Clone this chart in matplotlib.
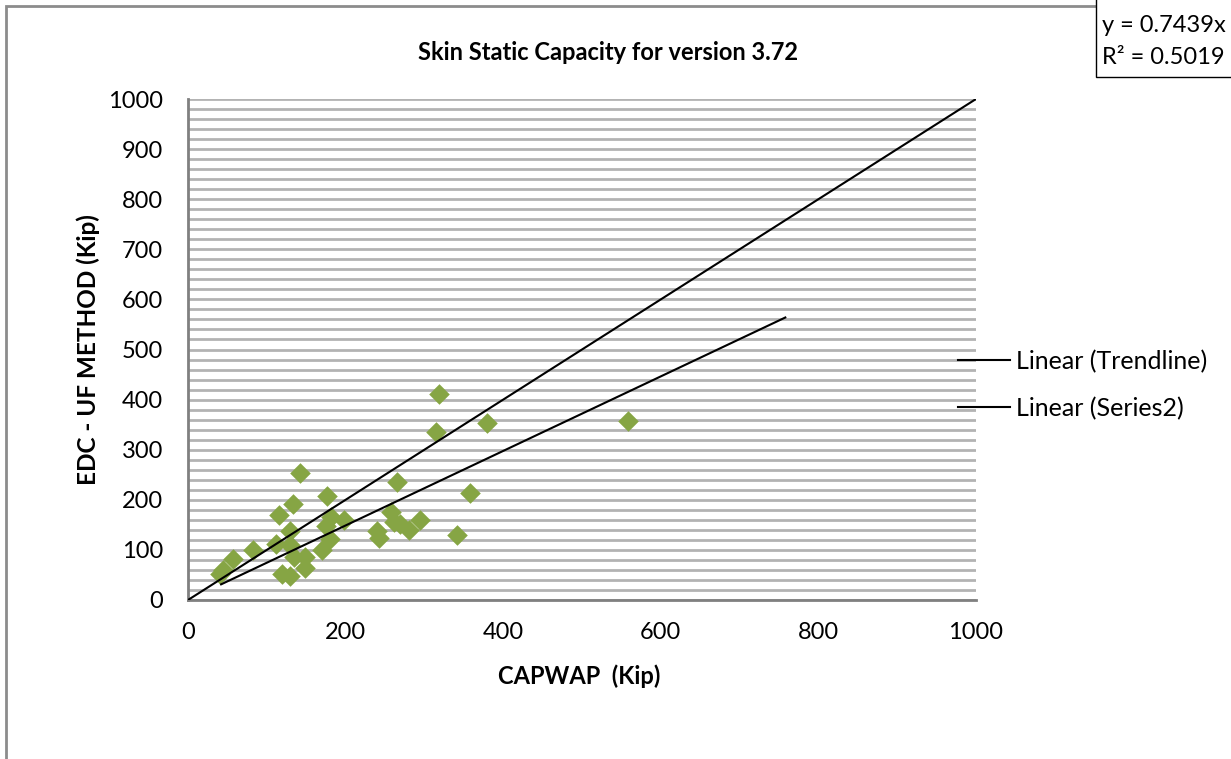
#!/usr/bin/env python3
"""Skin static capacity scatter: EDC - UF method vs CAPWAP."""

import matplotlib

matplotlib.use("Agg")
import matplotlib.pyplot as plt
from matplotlib.lines import Line2D
from matplotlib.patches import Rectangle

plt.rcParams["font.family"] = ["Lato", "DejaVu Sans"]

# measured capacities (Kip)
capwap = [318, 380, 315, 142, 265, 177, 358, 133, 116, 182, 198, 258, 261, 269, 294,
          280, 240, 242, 129, 175, 180, 170, 112, 129, 83, 57, 45, 41, 134, 148,
          148, 119, 130, 341, 558]
edc = [412, 354, 336, 253, 236, 207, 214, 191, 170, 166, 160, 175, 156, 152, 160,
       140, 138, 124, 137, 148, 122, 100, 112, 110, 100, 82, 60, 52, 86, 86,
       63, 52, 47, 130, 357]

# 1:1 reference series and fitted trendline (y = 0.7439x)
ref_x = [0, 1000]
ref_y = [0, 1000]
slope = 0.7439
r2 = 0.5019
fit_x = [42, 758]
fit_y = [slope * v for v in fit_x]

ticks = [0, 200, 400, 600, 800, 1000]
yticks = [0, 100, 200, 300, 400, 500, 600, 700, 800, 900, 1000]

W, H = 1231, 759
fig = plt.figure(figsize=(W / 100, H / 100), dpi=100)
ax = fig.add_axes([188 / W, 1 - 600 / H, (976 - 188) / W, (600 - 99) / H])

ax.set_xlim(0, 1000)
ax.set_ylim(0, 1000)
ax.set_yticks(range(0, 1001, 20), minor=True)
ax.grid(True, which="both", axis="y", color="#b3b3b3", linewidth=2)
ax.set_axisbelow(True)

ax.scatter(capwap, edc, marker="D", s=110, color="#86a544", linewidths=0, zorder=3)
ax.plot(ref_x, ref_y, color="black", linewidth=1.5, zorder=4)
ax.plot(fit_x, fit_y, color="black", linewidth=1.5, zorder=4)

ax.set_xticks(ticks)
ax.set_yticks(yticks)
ax.tick_params(axis="both", which="both", length=0, labelsize=17)
ax.tick_params(axis="x", pad=16)
ax.tick_params(axis="y", pad=18)
for side in ["top", "right"]:
    ax.spines[side].set_visible(False)
ax.spines["left"].set_color("#808080")
ax.spines["left"].set_linewidth(2)
ax.spines["bottom"].set_color("#808080")
ax.spines["bottom"].set_linewidth(2)

fig.text(608 / W, 1 - 53 / H, "Skin Static Capacity for version 3.72",
         ha="center", va="center", fontsize=17, fontweight="bold")
fig.text(579 / W, 1 - 676 / H, "CAPWAP  (Kip)", ha="center", va="center",
         fontsize=17, fontweight="bold")
fig.text(88 / W, 1 - 350 / H, "EDC - UF METHOD (Kip)", ha="center", va="center",
         rotation=90, fontsize=17.5, fontweight="bold")

handles = [Line2D([], [], color="black", linewidth=1.5),
           Line2D([], [], color="black", linewidth=1.5)]
fig.legend(handles, ["Linear (Trendline)", "Linear (Series2)"], loc="center left",
           bbox_to_anchor=(935 / W, 1 - 385 / H), frameon=False, fontsize=18,
           handlelength=2.1, handletextpad=0.25, labelspacing=0.95)

# chart area border
fig.patches.append(Rectangle((6 / W, -0.1), 1.2, 1.1 - 6 / H, transform=fig.transFigure,
                             fill=False, edgecolor="#8c8c8c", linewidth=2, zorder=0))
# equation box
fig.patches.append(Rectangle((1096 / W, 1 - 77 / H), 0.2, 0.2, transform=fig.transFigure,
                             facecolor="white", edgecolor="black", linewidth=1, zorder=5))
fig.text(1102 / W, 1 - 26 / H, f"y = {slope:.4f}x", ha="left", va="center",
         fontsize=17, zorder=6)
fig.text(1102 / W, 1 - 57 / H, f"R² = {r2:.4f}", ha="left", va="center",
         fontsize=17, zorder=6)

fig.savefig("out.png", dpi=100)
